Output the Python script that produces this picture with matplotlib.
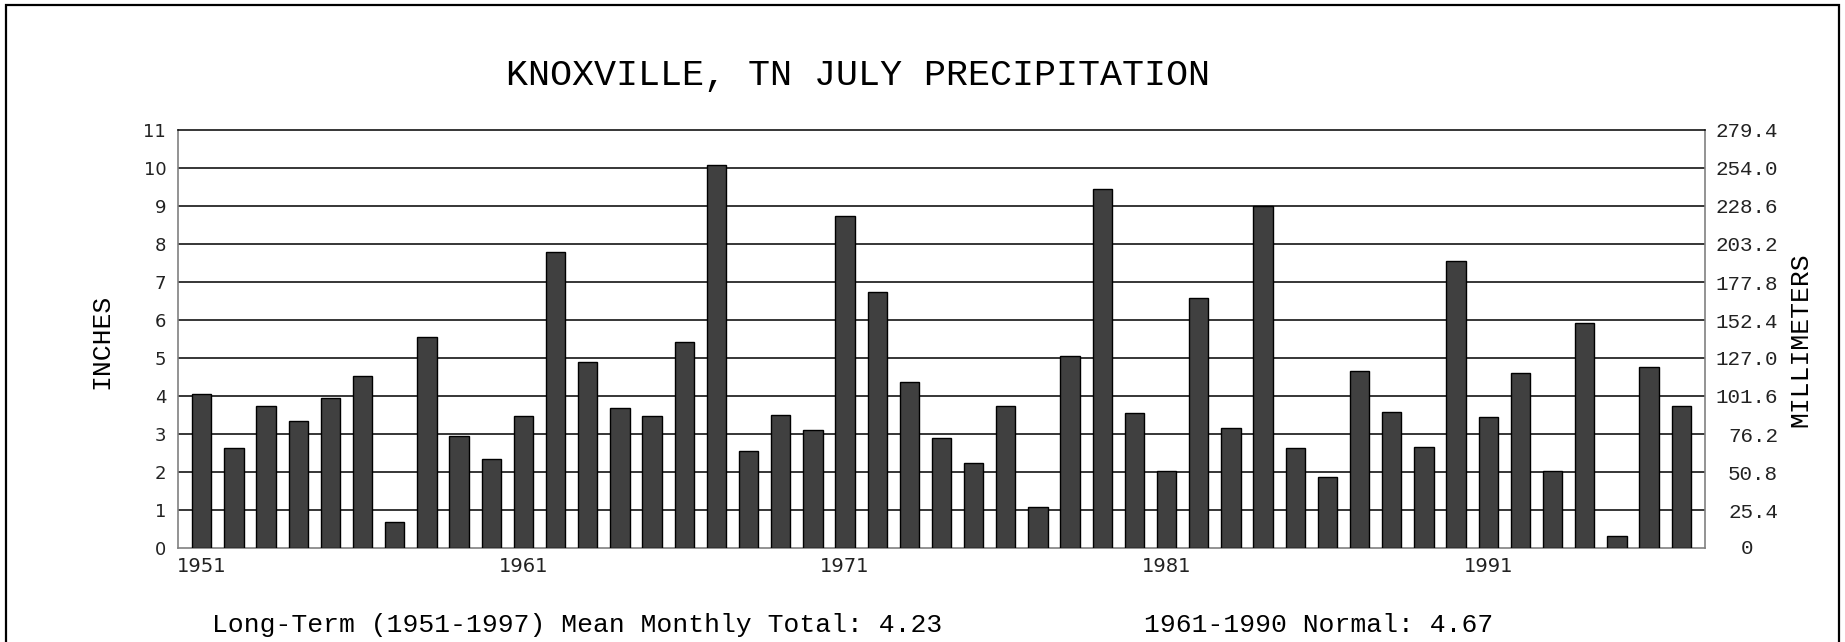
import numpy as np
import matplotlib
matplotlib.use("Agg")
import matplotlib.pyplot as plt
import matplotlib.transforms as mtransforms
from matplotlib.patches import Rectangle

years = list(range(1951, 1998))
precip_in = [4.05, 2.63, 3.75, 3.34, 3.95, 4.53, 0.68, 5.55, 2.95, 2.34,
             3.48, 7.79, 4.89, 3.68, 3.47, 5.42, 10.08, 2.55, 3.50, 3.11,
             8.74, 6.74, 4.37, 2.89, 2.24, 3.74, 1.08, 5.05, 9.45, 3.55,
             2.03, 6.58, 3.16, 9.00, 2.63, 1.87, 4.66, 3.58, 2.66, 7.55,
             3.46, 4.61, 2.03, 5.92, 0.32, 4.76, 3.74]
xtick_years = [1951, 1961, 1971, 1981, 1991]
inch_ticks = list(range(0, 12))
mm_per_inch = 25.4

title = "KNOXVILLE, TN JULY PRECIPITATION"
left_label = "INCHES"
right_label = "MILLIMETERS"
note_left = "Long-Term (1951-1997) Mean Monthly Total: 4.23"
note_right = "1961-1990 Normal: 4.67"

W, H = 1845, 642
fig = plt.figure(figsize=(W / 100, H / 100), dpi=100)
mono = "Liberation Mono"

ax = fig.add_axes([178 / W, 1 - 548 / H, (1705 - 178) / W, (548 - 130) / H])
x = np.arange(len(years))
ax.bar(x, precip_in, width=0.6, color="#404040", edgecolor="black",
       linewidth=1.0, zorder=3)
ax.set_xlim(-0.74, len(years) - 1 + 0.74)
ax.set_ylim(0, 11)
for v in inch_ticks[1:-1]:
    ax.axhline(v, color="black", linewidth=1.1, zorder=1)

ax.set_yticks(inch_ticks)
ax.set_yticklabels([str(v) for v in inch_ticks], fontsize=13,
                   family="DejaVu Sans", color="#222222")
ax.tick_params(axis="y", length=0, pad=8.5)
ax.set_xticks([years.index(y) for y in xtick_years])
ax.set_xticklabels([str(y) for y in xtick_years], fontsize=14,
                   family="DejaVu Sans", color="#222222")
ax.tick_params(axis="x", length=0, pad=6.5)

for s in ["left", "bottom", "right"]:
    ax.spines[s].set_color("#808080")
    ax.spines[s].set_linewidth(1.2)
ax.spines["top"].set_color("black")
ax.spines["top"].set_linewidth(1.1)

ax2 = ax.twinx()
ax2.set_ylim(0, 11 * mm_per_inch)
mm_ticks = [v * mm_per_inch for v in inch_ticks]
ax2.set_yticks(mm_ticks)
ax2.set_yticklabels(["" if v == 0 else f"{v:.1f}" for v in mm_ticks],
                    fontsize=15, family=mono, color="#222222", ha="right")
ax2.tick_params(axis="y", length=0, pad=52.6)
for s in ax2.spines.values():
    s.set_visible(False)
zero_tr = mtransforms.blended_transform_factory(fig.transFigure, ax2.transData)
ax2.text(1753 / W, 0, "0", transform=zero_tr, ha="right", va="center",
         fontsize=15, family=mono, color="#222222")

fig.text(858 / W, 1 - 85 / H, title, ha="center", va="baseline",
         fontsize=26.5, family=mono)
fig.text(101 / W, 1 - 341 / H, left_label, ha="center", va="center",
         rotation=90, fontsize=19, family=mono)
fig.text(1800 / W, 1 - 340 / H, right_label, ha="center", va="center",
         rotation=90, fontsize=19, family=mono)
fig.text(212 / W, 1 - 632 / H, note_left, ha="left", va="baseline",
         fontsize=19, family=mono)
fig.text(1144 / W, 1 - 632 / H, note_right, ha="left", va="baseline",
         fontsize=19, family=mono)

fig.patches.append(Rectangle((6 / W, -0.2), (1839 - 6) / W, 1.2 - 5 / H,
                             transform=fig.transFigure, fill=False,
                             edgecolor="black", linewidth=1.6))

fig.savefig("out.png", dpi=100)
